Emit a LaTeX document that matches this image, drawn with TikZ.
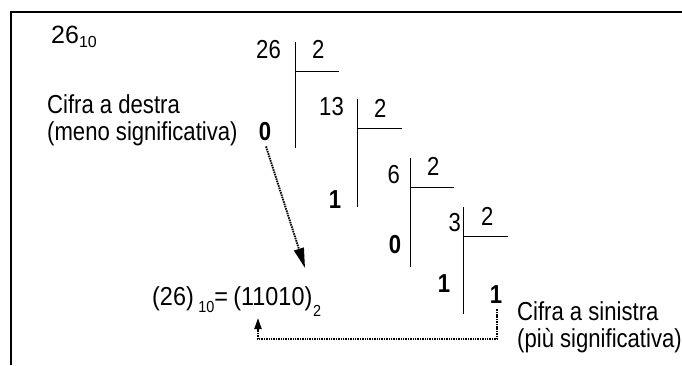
\documentclass[tikz,border=0pt]{standalone}
\usepackage{fontspec}
\setmainfont{Liberation Sans}
\usetikzlibrary{arrows.meta}
\newcommand{\nar}[1]{\scalebox{0.85}[1]{#1}}
\tikzset{
  txt/.style={inner sep=0pt, font=\fontsize{26}{28}\selectfont},
  rem/.style={inner sep=0pt, font=\fontsize{26}{28}\selectfont\bfseries},
  bar/.style={line width=1pt},
  frame/.style={line width=1.4pt},
  dotline/.style={line width=1.9pt, dash pattern=on 1.5pt off 0.9pt},
}
\newcommand{\lowsub}[2]{\raisebox{-#1pt}{\fontsize{16}{16}\selectfont #2}}
\begin{document}
\begin{tikzpicture}[x=1pt,y=-1pt]
\useasboundingbox (0,0) rectangle (682,365);
% frame
\draw[frame] (11,365) -- (11,12) -- (682,12);
% heading number
\node[txt, anchor=base west, font=\fontsize{25}{27}\selectfont] (base) at (51,43) {26\lowsub{4}{10}};
% division rows
\node[txt, anchor=base east] (n26) at (281,58) {\nar{26}};
\node[txt, anchor=base west] (d1) at (312,58) {\nar{2}};
\draw[bar] (295,42) -- (295,148);
\draw[bar] (295,71) -- (339,71);

\node[txt, anchor=base east] (n13) at (344,115) {\nar{13}};
\node[txt, anchor=base west] (d2) at (374,117) {\nar{2}};
\draw[bar] (357,99) -- (357,207);
\draw[bar] (357,128) -- (402,128);

\node[txt, anchor=base east] (n6) at (400,183) {\nar{6}};
\node[txt, anchor=base west] (d3) at (427,175) {\nar{2}};
\draw[bar] (410,158) -- (410,267);
\draw[bar] (410,187) -- (454,187);

\node[txt, anchor=base east] (n3) at (461,231) {\nar{3}};
\node[txt, anchor=base west] (d4) at (481,225) {\nar{2}};
\draw[bar] (463,207) -- (463,314);
\draw[bar] (463,236) -- (508,236);
% remainders
\node[rem, anchor=base] (r0) at (265,140) {\nar{0}};
\node[rem, anchor=base] (r1) at (335,208) {\nar{1}};
\node[rem, anchor=base] (r2) at (395,253) {\nar{0}};
\node[rem, anchor=base] (r3) at (444,292) {\nar{1}};
\node[rem, anchor=base] (r4) at (496,303) {\nar{1}};
% labels
\node[txt, anchor=base west] (lr1) at (47,113) {\nar{Cifra a destra}};
\node[txt, anchor=base west] (lr2) at (47,140) {\nar{(meno significativa)}};
\node[txt, anchor=base west] (ll1) at (517,320) {\nar{Cifra a sinistra}};
\node[txt, anchor=base west] (ll2) at (517,347) {\nar{(più significativa)}};
% result
\node[txt, anchor=base west, font=\fontsize{26}{28}\selectfont] (res) at (152,305)
  {\scalebox{0.9}[1]{(26)\hspace{5pt}\lowsub{7}{10}=\hspace{6pt}(11010)\hspace{1pt}\lowsub{11}{2}}};
% arrows
\coordinate (tipA) at (305,268);
\coordinate (tipB) at (258,318);
\coordinate (corner) at (258,339);
\draw[dotline, -{Triangle[length=20pt,width=10pt]}] (r0.south) ++(1,6) -- (tipA);
\draw[dotline, -{Triangle[length=11pt,width=7pt]}] (r4.south) ++(1,6) |- (corner) -- (tipB);
\end{tikzpicture}
\end{document}
